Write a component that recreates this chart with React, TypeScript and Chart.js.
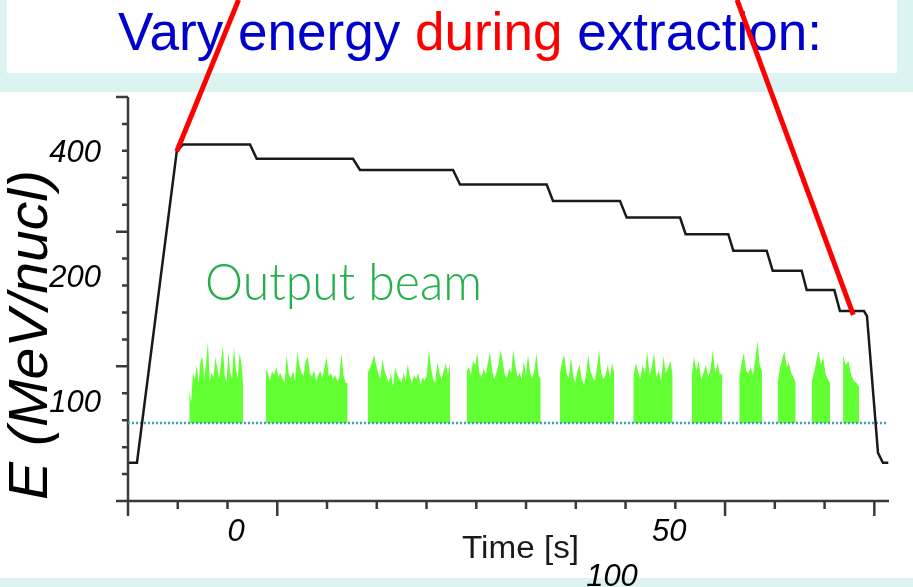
import React, { useEffect, useRef } from 'react';
import { Chart, registerables } from 'chart.js';

Chart.register(...registerables);

// ---- Title ----
const titleParts = [
  { text: 'Vary energy ', color: '#0000cc' },
  { text: 'during', color: '#ff0000' },
  { text: ' extraction:', color: '#0000cc' },
];

// ---- Energy ramp (time in s, energy in MeV/nucl) ----
const energyTime = [-12.35, -11.43, -6.84, -6.12, 1.62, 2.39, 13.5, 14.31, 25.05, 25.86, 35.86, 36.59, 44.32, 45.09, 51.25, 51.9, 56.82, 57.4, 61.25, 61.95, 65.29, 65.87, 69.06, 69.71, 72.48, 72.83, 74.1, 74.67, 75.29];
const energyMeV = [71.4, 71.4, 401, 417, 417, 385, 385, 362, 362, 334, 334, 305, 305, 278, 278, 253.5, 253.5, 231.4, 231.4, 207, 207, 186, 186, 165.6, 165.6, 161, 75.4, 71.4, 71.4];

// ---- Output beam spills (time window in s, intensity samples in arb. units) ----
const burstStart = [-5.39, 3.43, 15.2, 26.63, 37.4, 45.86, 52.6, 58.09, 62.52, 66.45, 70.07];
const burstEnd = [0.84, 12.89, 24.7, 35.17, 43.66, 50.4, 56.13, 60.71, 64.6, 68.56, 71.94];
const burstProfiles = [
  [33, 21, 50, 44, 58, 40, 62, 66, 45, 60, 81, 42, 50, 46, 66, 55, 44, 60, 78, 48, 40, 71, 50, 45, 76, 55, 44, 70, 60, 36],
  [55, 50, 42, 52, 48, 56, 46, 50, 44, 40, 68, 48, 45, 52, 42, 71, 58, 50, 47, 62, 66, 50, 46, 53, 42, 48, 52, 45, 56, 66, 47, 50, 44, 48, 42, 45, 70, 48, 40, 40],
  [50, 55, 60, 68, 58, 50, 44, 64, 52, 46, 40, 50, 35, 56, 48, 44, 40, 50, 42, 59, 46, 40, 48, 44, 50, 38, 46, 42, 48, 73, 55, 44, 40, 61, 50, 44, 52, 60, 48, 60],
  [52, 56, 48, 62, 58, 70, 50, 46, 55, 48, 60, 71, 52, 44, 50, 58, 73, 62, 48, 45, 55, 50, 73, 58, 46, 50, 44, 62, 48, 68, 50, 45, 52, 70, 48, 44],
  [50, 62, 68, 50, 44, 66, 48, 40, 52, 58, 44, 38, 48, 68, 52, 46, 42, 55, 73, 50, 44, 48, 58, 45, 60, 50],
  [45, 60, 52, 44, 58, 50, 71, 48, 56, 70, 46, 52, 42, 67, 50, 55, 62, 48],
  [48, 66, 52, 62, 44, 50, 58, 46, 54, 73, 50, 60, 48, 50],
  [46, 60, 70, 52, 50, 56, 48, 62, 82, 58, 52],
  [40, 55, 64, 72, 56, 60, 50, 46, 40],
  [42, 50, 62, 72, 58, 66, 50, 44, 40],
  [68, 58, 62, 48, 42, 40, 36],
];
const baselineTime = [-12.47, 75.06];

// ---- Red callout lines (time, MeV/nucl) ----
const calloutTime = [[-6.84, 0.3], [71.25, 57.83]];
const calloutMeV = [[401, 930], [162, 930]];

// ---- Axis labels ----
const yTickLabels = ['400', '200', '100'];
const xTickLabels = ['0', '50'];
const strayLabel = '100';
const xTitle = 'Time [s]';
const yTitle = 'E (MeV/nucl)';
const beamLabel = 'Output beam';
const xTickCount = 16;
const yTickCount = 16;
const xMajorTicks = [0, 3, 12, 15];
const yMajorTicks = [0, 5, 10, 15];

const TEAL = '#dcf4f1';
const GREEN = '#62ff33';

function fitText(ctx: CanvasRenderingContext2D, text: string, x: number, y: number, w: number) {
  const m = ctx.measureText(text).width;
  ctx.save();
  ctx.translate(x, y);
  ctx.scale(w / m, 1);
  ctx.fillText(text, 0, 0);
  ctx.restore();
}

const decorPlugin = {
  id: 'slideDecor',
  beforeDraw(chart: any) {
    const { ctx, width, height } = chart;
    ctx.save();
    ctx.fillStyle = '#ffffff';
    ctx.fillRect(0, 0, width, height);
    ctx.fillStyle = TEAL;
    ctx.fillRect(0, 0, width, 92);
    ctx.fillRect(0, 578, width, height - 578);
    ctx.fillStyle = '#ffffff';
    ctx.fillRect(7, 0, 890, 73);
    ctx.font = '53px "Liberation Sans", Arial, sans-serif';
    ctx.textBaseline = 'alphabetic';
    ctx.textAlign = 'left';
    const total = titleParts.reduce((s, p) => s + ctx.measureText(p.text).width, 0);
    ctx.translate(118, 50);
    ctx.scale(704 / total, 1);
    let x = 0;
    for (const p of titleParts) {
      ctx.fillStyle = p.color;
      ctx.fillText(p.text, x, 0);
      x += ctx.measureText(p.text).width;
    }
    ctx.restore();
  },
  beforeDatasetsDraw(chart: any) {
    const { ctx, chartArea } = chart;
    const xt = chart.scales.xt;
    const yt = chart.scales.yt;
    ctx.save();
    ctx.strokeStyle = '#3a3a3a';
    ctx.lineWidth = 2.5;
    ctx.lineCap = 'butt';
    ctx.beginPath();
    ctx.moveTo(chartArea.left, chartArea.top);
    ctx.lineTo(chartArea.left, chartArea.bottom);
    ctx.moveTo(chartArea.left, chartArea.bottom);
    ctx.lineTo(chartArea.right, chartArea.bottom);
    for (let i = 0; i < xTickCount; i++) {
      const px = xt.getPixelForValue(i);
      const len = xMajorTicks.includes(i) ? 15 : 8;
      ctx.moveTo(px, chartArea.bottom);
      ctx.lineTo(px, chartArea.bottom + len);
    }
    for (let i = 0; i < yTickCount; i++) {
      const py = yt.getPixelForValue(i);
      const len = yMajorTicks.includes(i) ? 12 : 6;
      ctx.moveTo(chartArea.left, py);
      ctx.lineTo(chartArea.left - len, py);
    }
    ctx.stroke();
    ctx.restore();
  },
  afterDraw(chart: any) {
    const { ctx } = chart;
    const xs = chart.scales.x;
    const ys = chart.scales.y;
    ctx.save();
    ctx.fillStyle = '#000000';
    ctx.textBaseline = 'alphabetic';
    ctx.font = 'italic 31px "Liberation Sans", Arial, sans-serif';
    ctx.textAlign = 'right';
    for (const l of yTickLabels) {
      ctx.fillText(l, 101, ys.getPixelForValue(Number(l)) + 10.5);
    }
    ctx.textAlign = 'center';
    for (const l of xTickLabels) {
      ctx.fillText(l, xs.getPixelForValue(Number(l)), 541);
    }
    ctx.fillText(strayLabel, 612, 586);

    ctx.textAlign = 'left';
    ctx.fillStyle = '#1a1a1a';
    ctx.font = '31px "Liberation Sans", Arial, sans-serif';
    fitText(ctx, xTitle, 462, 558, 117);

    ctx.fillStyle = '#000000';
    ctx.font = 'italic 56px "Liberation Sans", Arial, sans-serif';
    ctx.save();
    ctx.translate(47, 500);
    ctx.rotate(-Math.PI / 2);
    fitText(ctx, yTitle, 0, 0, 330);
    ctx.restore();

    ctx.fillStyle = '#22b04a';
    ctx.font = '300 52px Lato, "DejaVu Sans", sans-serif';
    fitText(ctx, beamLabel, 205, 300, 277);
    ctx.restore();
  },
};

export default function App() {
  const ref = useRef<HTMLCanvasElement>(null);
  useEffect(() => {
    document.body.style.margin = '0';
    const datasets: any[] = [];
    calloutTime.forEach((ts, k) => {
      datasets.push({
        data: ts.map((t, i) => ({ x: t, y: calloutMeV[k][i] })),
        yAxisID: 'y',
        borderColor: '#ff0000',
        borderWidth: 5,
        pointRadius: 0,
        clip: false,
        fill: false,
      });
    });
    datasets.push({
      data: energyTime.map((t, i) => ({ x: t, y: energyMeV[i] })),
      yAxisID: 'y',
      borderColor: '#1a1a1a',
      borderWidth: 2.5,
      pointRadius: 0,
      tension: 0,
      clip: false,
      fill: false,
    });
    datasets.push({
      data: baselineTime.map((t) => ({ x: t, y: 0 })),
      yAxisID: 'yb',
      borderColor: '#3aa3ad',
      borderWidth: 2.5,
      borderDash: [2, 2],
      pointRadius: 0,
      fill: false,
    });
    burstProfiles.forEach((prof, k) => {
      const s = burstStart[k];
      const e = burstEnd[k];
      datasets.push({
        data: prof.map((v, i) => ({ x: s + ((e - s) * i) / (prof.length - 1), y: v })),
        yAxisID: 'yb',
        borderColor: 'rgba(0,0,0,0)',
        borderWidth: 1,
        backgroundColor: GREEN,
        pointRadius: 0,
        tension: 0,
        fill: { value: 0 },
      });
    });

    const chart = new Chart(ref.current as HTMLCanvasElement, {
      type: 'line',
      data: { datasets },
      options: {
        animation: false,
        responsive: false,
        devicePixelRatio: 1,
        layout: { padding: { left: 128, right: 24, top: 97, bottom: 86 } },
        plugins: {
          legend: { display: false },
          tooltip: { enabled: false },
          title: { display: false },
        },
        scales: {
          x: { type: 'linear', min: -12.465, max: 75.37, display: false },
          y: { type: 'logarithmic', min: 57.74, max: 542.6, display: false },
          yb: { type: 'linear', axis: 'y', min: -78, max: 326, display: false },
          xt: { type: 'linear', axis: 'x', min: 0, max: 15.295, display: false },
          yt: { type: 'linear', axis: 'y', min: 0, max: 15, display: false },
        },
      } as any,
      plugins: [decorPlugin],
    });
    return () => chart.destroy();
  }, []);
  return (
    <div style={{ position: 'absolute', left: 0, top: 0, width: 913, height: 587 }}>
      <canvas ref={ref} width={913} height={587} style={{ display: 'block' }} />
    </div>
  );
}
